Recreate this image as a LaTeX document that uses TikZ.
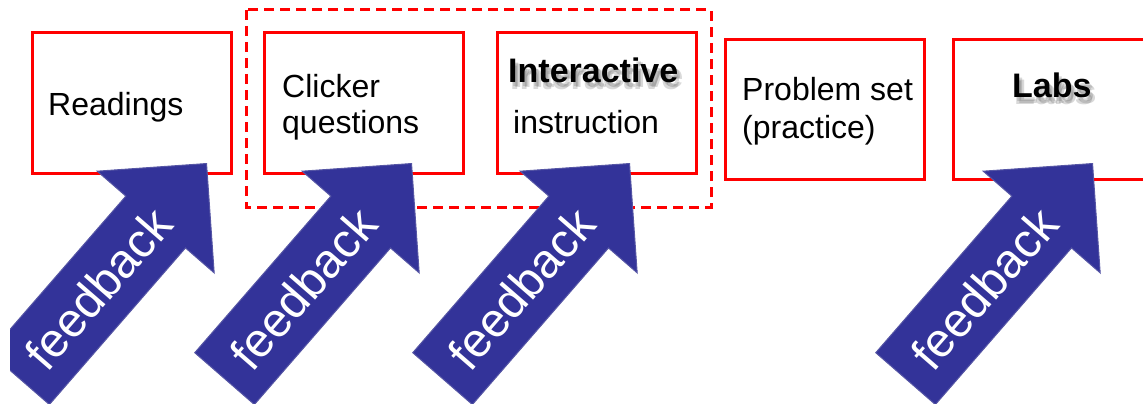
\documentclass[tikz,border=0pt]{standalone}
\usepackage{fontspec}
\setmainfont{Liberation Sans}
\usetikzlibrary{shapes.arrows,calc}

\begin{document}
\begin{tikzpicture}[x=1pt, y=-1pt,
  every node/.style={font=\fontsize{32}{37}\selectfont},
  stage/.style={draw=red, line width=3pt, minimum width=199pt, minimum height=140pt},
  word/.style={inner sep=0pt, anchor=base west},
  group/.style={draw=red, line width=3pt, dash pattern=on 10pt off 6pt},
  fbarrow/.style={single arrow, single arrow head extend=38pt, inner sep=0pt,
    text height=39pt, text depth=39pt, minimum height=285pt,
    fill={rgb,255:red,51;green,51;blue,153}, draw={rgb,255:red,86;green,86;blue,165},
    line width=1pt, rotate=49, anchor=tip},
  fbtext/.style={text=white, font=\fontsize{48}{48}\selectfont, rotate=49, inner sep=0pt},
  boldtitle/.style={word, font=\fontsize{34}{37}\selectfont\bfseries},
  titleshadow/.style={boldtitle, text=black!60, opacity=0.25}
]
\clip (0,0) rectangle (1143,404);
\useasboundingbox (0,0) rectangle (1143,404);
% dashed group round clicker + interactive
\draw[group] (246,10) rectangle (711,207);
% stage boxes
\node[stage] (read) at (131.5,103) {};
\node[stage] (click) at (364,103) {};
\node[stage] (inter) at (597,103) {};
\node[stage] (prob) at (824.5,109.5) {};
\node[stage] (labs) at (1052.5,109.5) {};
% box texts
\node[word] (readtxt) at (48,115) {Readings};
\node[word] (clicktxt) at (282,97) {Clicker};
\node[word] (clicktxtb) at (282,133) {questions};
\node[word] (interline) at (513,133) {instruction};
\node[word] (probtxt) at (742,100) {Problem set};
\node[word] (probtxtb) at (742,138) {(practice)};
% bold titles with soft shadow
\node[titleshadow] (intershadowa) at (511,86) {Interactive};
\node[titleshadow] (intershadowb) at (513,88) {Interactive};
\node[titleshadow] (intershadowc) at (510,89) {Interactive};
\node[boldtitle] (intertitle) at (508,82) {Interactive};
\node[titleshadow] (labsshadowa) at (1015,101) {Labs};
\node[titleshadow] (labsshadowb) at (1017,103) {Labs};
\node[titleshadow] (labsshadowc) at (1014,104) {Labs};
\node[boldtitle] (labstitle) at (1012,97) {Labs};
% feedback arrows
\begin{scope}
\clip (10,0) rectangle (1143,404);
\node[fbarrow] (fb1) at (207,163) {};
\node[fbarrow] (fb2) at (412,163) {};
\node[fbarrow] (fb3) at (630,163) {};
\node[fbarrow] (fb4) at (1093,163) {};
\end{scope}
\node[fbtext] (fbt1) at ($(fb1.tail)!0.42!(fb1.tip)$) {feedback};
\node[fbtext] (fbt2) at ($(fb2.tail)!0.42!(fb2.tip)$) {feedback};
\node[fbtext] (fbt3) at ($(fb3.tail)!0.42!(fb3.tip)$) {feedback};
\node[fbtext] (fbt4) at ($(fb4.tail)!0.42!(fb4.tip)$) {feedback};
\end{tikzpicture}
\end{document}
